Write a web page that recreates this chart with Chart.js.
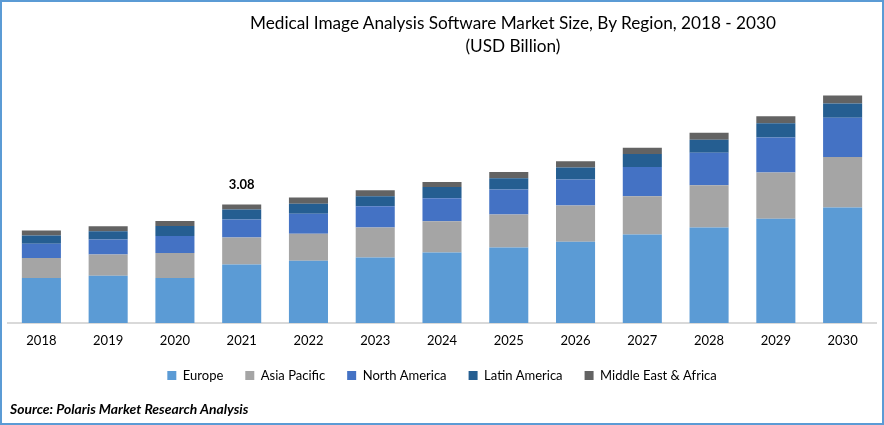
<!DOCTYPE html>
<html lang="en">

<head>
  <meta charset="UTF-8" />
  <title>Medical Image Analysis Software Market Size</title>
  <script src="https://cdn.jsdelivr.net/npm/chart.js"></script>
  <style>
    * {
      box-sizing: border-box;
    }

    body {
      margin: 0;
      background: #fff;
      font-family: Lato, sans-serif;
      color: #000;
    }

    .wrap {
      position: relative;
      width: 884px;
      height: 425px;
      overflow: hidden;
    }

    .frame {
      position: absolute;
      inset: 0;
      border: 2px solid #5b9bd5;
      pointer-events: none;
    }

    .title {
      position: absolute;
      left: 71px;
      width: 884px;
      top: 11px;
      text-align: center;
      font-size: 17.2px;
      line-height: 23px;
      white-space: nowrap;
    }

    .source {
      position: absolute;
      left: 10px;
      top: 401px;
      font-size: 13.9px;
      line-height: 16px;
      font-weight: bold;
      font-style: italic;
    }
  </style>
</head>

<body>
  <div class="wrap">
    <canvas id="marketChart"></canvas>
    <div class="title">Medical Image Analysis Software Market Size, By Region, 2018 - 2030<br>(USD Billion)</div>
    <div class="source">Source: Polaris Market Research Analysis</div>
    <div class="frame"></div>
  </div>

  <script>
    const years = ['2018', '2019', '2020', '2021', '2022', '2023', '2024', '2025', '2026', '2027', '2028', '2029', '2030'];
    const europe = [1.17, 1.23, 1.17, 1.52, 1.62, 1.70, 1.83, 1.96, 2.11, 2.30, 2.48, 2.71, 3.00];
    const asiaPacific = [0.52, 0.55, 0.65, 0.70, 0.70, 0.78, 0.81, 0.86, 0.94, 0.99, 1.10, 1.20, 1.31];
    const northAmerica = [0.37, 0.39, 0.44, 0.47, 0.52, 0.55, 0.60, 0.65, 0.68, 0.76, 0.84, 0.91, 1.02];
    const latinAmerica = [0.21, 0.21, 0.26, 0.26, 0.26, 0.26, 0.29, 0.29, 0.31, 0.34, 0.34, 0.37, 0.37];
    const middleEastAfrica = [0.13, 0.13, 0.13, 0.13, 0.16, 0.16, 0.13, 0.16, 0.16, 0.16, 0.18, 0.18, 0.21];
    const calloutYear = '2021';
    const calloutText = '3.08';

    function series(label, data, color) {
      return { label: label, data: data, backgroundColor: color, barPercentage: 1, categoryPercentage: 0.585 };
    }

    // bold figure above the 2021 bar
    const calloutPlugin = {
      id: 'callout',
      afterDatasetsDraw(chart) {
        const bar = chart.getDatasetMeta(4).data[years.indexOf(calloutYear)];
        const ctx = chart.ctx;
        ctx.save();
        ctx.font = 'bold 13px Lato';
        ctx.fillStyle = '#000';
        ctx.textAlign = 'center';
        ctx.textBaseline = 'middle';
        ctx.fillText(calloutText, bar.x, bar.y - 20);
        ctx.restore();
      }
    };

    new Chart(document.getElementById('marketChart'), {
      type: 'bar',
      data: {
        labels: years,
        datasets: [
          series('Europe', europe, '#5b9bd5'),
          series('Asia Pacific', asiaPacific, '#a5a5a5'),
          series('North America', northAmerica, '#4472c4'),
          series('Latin America', latinAmerica, '#255e91'),
          series('Middle East & Africa', middleEastAfrica, '#636363')
        ]
      },
      plugins: [calloutPlugin],
      options: {
        responsive: true,
        maintainAspectRatio: false,
        animation: false,
        layout: { padding: { top: 92, left: 8, right: 8, bottom: 33 } },
        plugins: {
          tooltip: { enabled: false },
          legend: {
            position: 'bottom',
            labels: {
              boxWidth: 9,
              boxHeight: 9,
              padding: 22,
              color: '#000',
              font: { family: 'Lato', size: 13 }
            }
          }
        },
        scales: {
          x: {
            stacked: true,
            grid: { display: false, drawTicks: false },
            border: { color: '#d9d9d9', width: 2 },
            ticks: { color: '#000', padding: 10, maxRotation: 0, font: { family: 'Lato', size: 13 } },
            afterFit(scale) {
              scale.height = 24;
            }
          },
          y: {
            stacked: true,
            display: false,
            min: 0,
            max: 6
          }
        }
      }
    });
  </script>
</body>

</html>
